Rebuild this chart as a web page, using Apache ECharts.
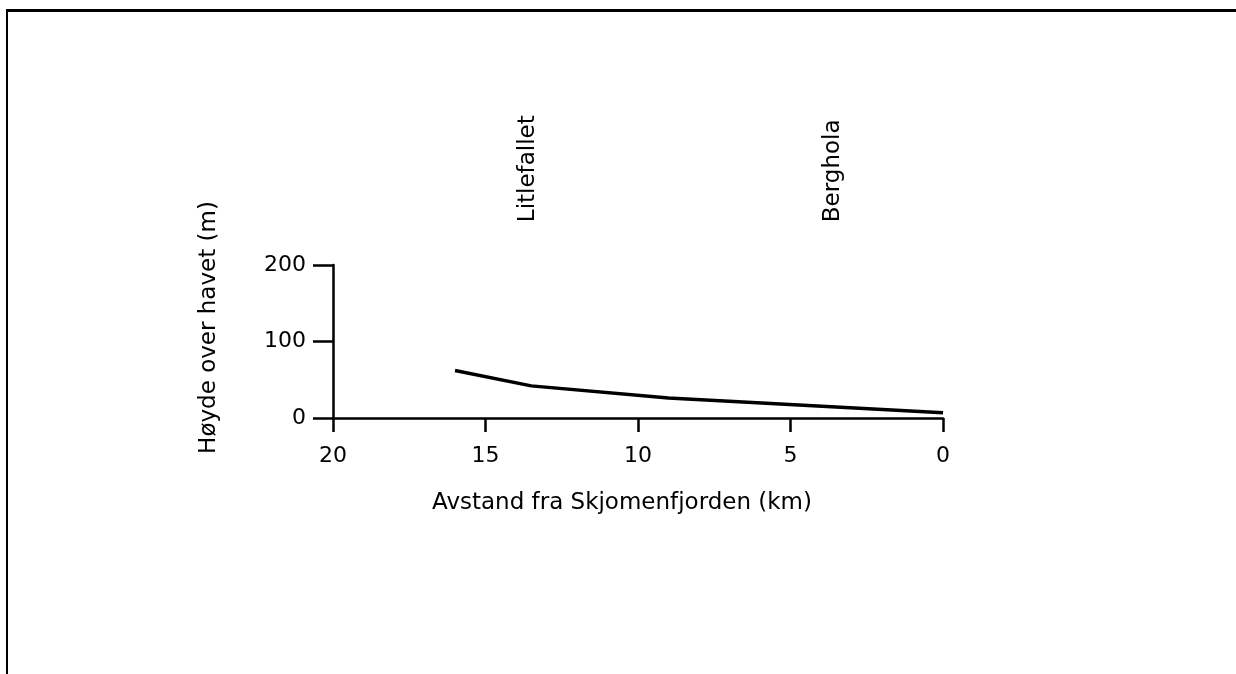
<!DOCTYPE html>
<html>
<head>
<meta charset="utf-8">
<script src="https://cdn.jsdelivr.net/npm/echarts@6/dist/echarts.min.js"></script>
<style>
html,body{margin:0;padding:0;background:#fff;}
#chart{width:1236px;height:674px;}
</style>
</head>
<body>
<div id="chart"></div>
<script>
// Distance from Skjomenfjorden (km) and height above sea level (m)
const distanceKm = [16, 13.5, 9, 0];
const heightM = [62, 42, 26, 7];
// Place names marked above the profile
const placeNames = ['Litlefallet', 'Berghola'];
const placeKm = [13.6, 3.6];
const placeLabelBase = 256;
// Axis ticks
const xTicks = [0, 5, 10, 15, 20];
const yTicks = [0, 100, 200];
const xTitle = 'Avstand fra Skjomenfjorden (km)';
const yTitle = 'Høyde over havet (m)';

const FONT = 'DejaVu Sans';
const INK = '#000';
const chart = echarts.init(document.getElementById('chart'), null, {renderer: 'canvas'});

const axisLine = {show: true, onZero: false, lineStyle: {color: INK, width: 2.5}};
const option = {
  backgroundColor: '#fff',
  animation: false,
  grid: {left: 333, right: 293, top: 265, bottom: 256, containLabel: false},
  xAxis: {
    type: 'value', inverse: true,
    min: xTicks[0], max: xTicks[xTicks.length - 1], interval: 5,
    axisLine: axisLine,
    axisTick: {show: true, length: 14, lineStyle: {color: INK, width: 2.5}},
    splitLine: {show: false},
    axisLabel: {color: INK, fontFamily: FONT, fontSize: 22, margin: 27},
    name: xTitle, nameLocation: 'middle', nameGap: 74,
    nameTextStyle: {color: INK, fontFamily: FONT, fontSize: 23, padding: [0, 32, 0, 0]}
  },
  yAxis: {
    type: 'value',
    min: yTicks[0], max: yTicks[yTicks.length - 1], interval: 100,
    axisLine: axisLine,
    axisTick: {show: true, length: 20, lineStyle: {color: INK, width: 2.5}},
    splitLine: {show: false},
    axisLabel: {color: INK, fontFamily: FONT, fontSize: 22, margin: 27},
    name: yTitle, nameLocation: 'middle', nameGap: 112, nameRotate: 90,
    nameTextStyle: {color: INK, fontFamily: FONT, fontSize: 23, padding: [0, 0, 0, 28]}
  },
  series: [
    {
      type: 'line',
      data: distanceKm.map((d, i) => [d, heightM[i]]),
      showSymbol: false, symbol: 'none',
      lineStyle: {color: INK, width: 3.5},
      z: 3
    },
    {
      type: 'scatter',
      clip: false,
      symbolSize: 0,
      data: placeNames.map((n, i) => ({name: n, value: [placeKm[i], placeLabelBase]})),
      label: {
        show: true, formatter: p => p.name, position: 'inside',
        rotate: 90, align: 'left', verticalAlign: 'middle',
        color: INK, opacity: 1, fontFamily: FONT, fontSize: 23,
        textBorderWidth: 0
      },
      silent: true
    }
  ],
  graphic: [
    {type: 'line', shape: {x1: 6, y1: 10.5, x2: 1236, y2: 10.5}, style: {stroke: INK, lineWidth: 3}},
    {type: 'line', shape: {x1: 7, y1: 10, x2: 7, y2: 674}, style: {stroke: INK, lineWidth: 2}}
  ]
};
chart.setOption(option);
</script>
</body>
</html>
